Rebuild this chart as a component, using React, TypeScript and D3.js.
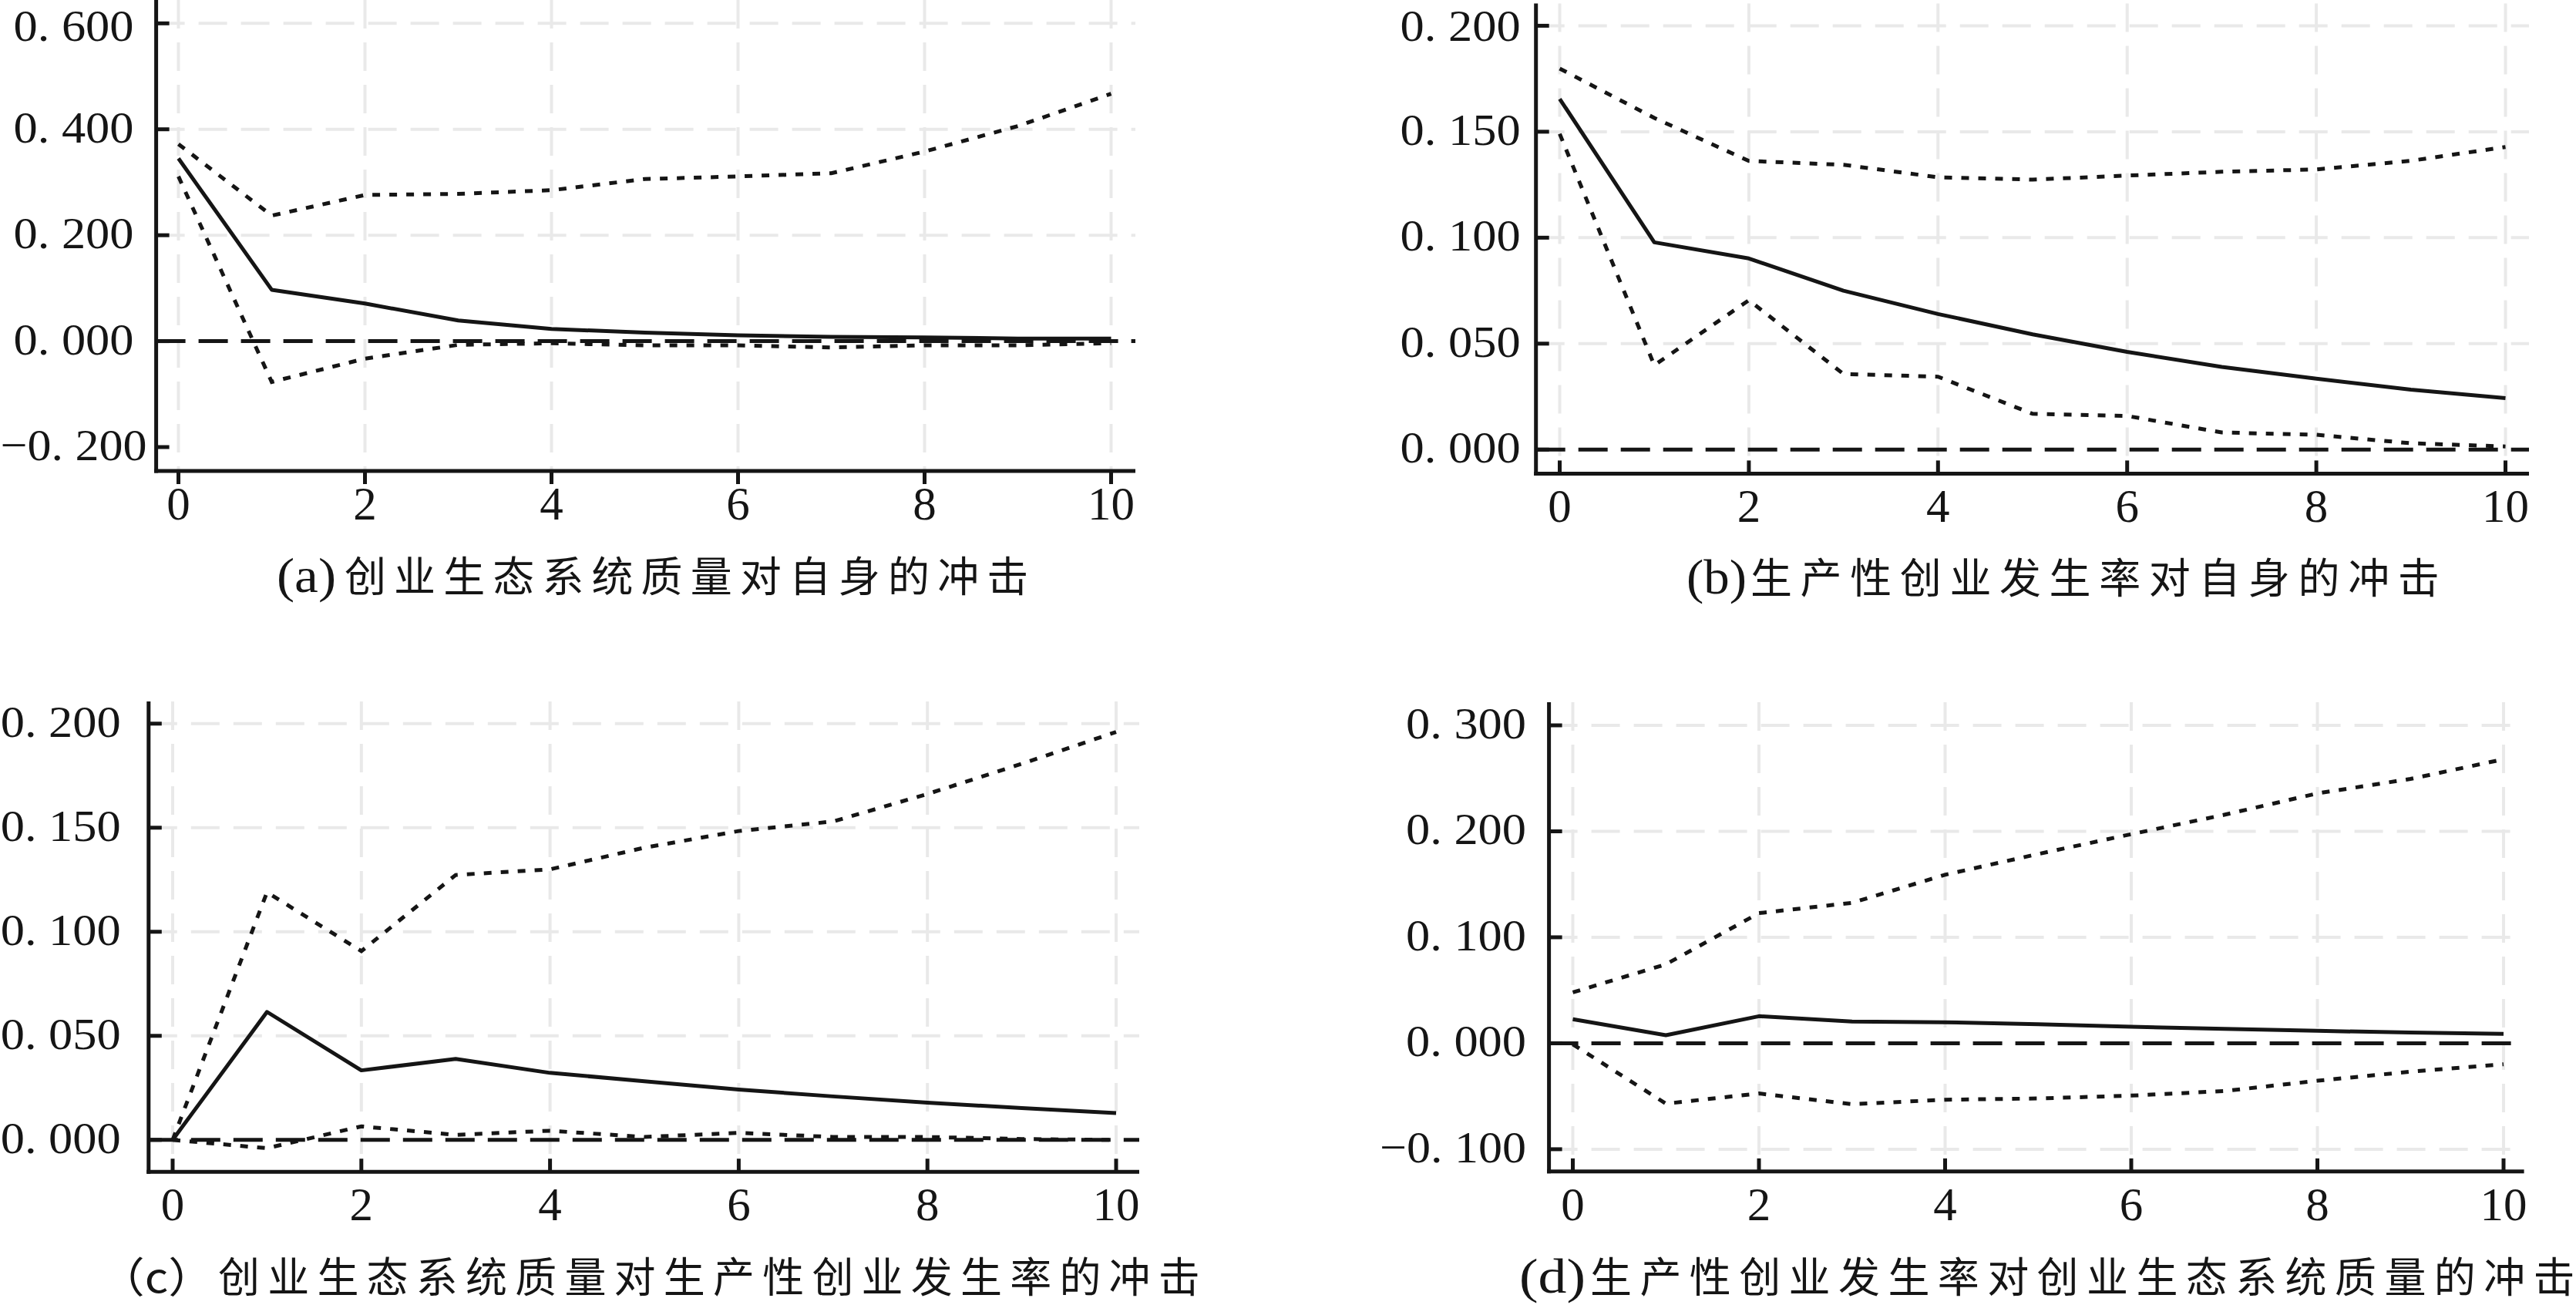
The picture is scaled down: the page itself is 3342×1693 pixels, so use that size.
import React from 'react';
import * as d3 from 'd3';

// ---------- data ----------
const PERIODS = [0, 1, 2, 3, 4, 5, 6, 7, 8, 9, 10];
const X_TICKS = [0, 2, 4, 6, 8, 10];

const A_IRF = [0.345, 0.097, 0.071, 0.039, 0.023, 0.016, 0.011, 0.008, 0.007, 0.005, 0.005];
const A_UPPER = [0.372, 0.237, 0.276, 0.278, 0.285, 0.306, 0.311, 0.317, 0.358, 0.406, 0.467];
const A_LOWER = [0.311, -0.077, -0.033, -0.007, -0.004, -0.008, -0.008, -0.012, -0.008, -0.008, -0.004];

const B_IRF = [0.1655, 0.0978, 0.0902, 0.075, 0.064, 0.0544, 0.0461, 0.039, 0.0335, 0.0283, 0.0243];
const B_UPPER = [0.1798, 0.1565, 0.1362, 0.1344, 0.1285, 0.1274, 0.1293, 0.1311, 0.1322, 0.1363, 0.1428];
const B_LOWER = [0.149, 0.0398, 0.0705, 0.0357, 0.0344, 0.0169, 0.0159, 0.0081, 0.007, 0.003, 0.0015];

const C_IRF = [0, 0.0615, 0.0334, 0.0389, 0.0322, 0.0282, 0.0242, 0.0209, 0.0179, 0.0153, 0.0129];
const C_UPPER = [0, 0.119, 0.0907, 0.1273, 0.13, 0.1404, 0.1484, 0.153, 0.1662, 0.1807, 0.196];
const C_LOWER = [0, -0.004, 0.0065, 0.0024, 0.0044, 0.0014, 0.0034, 0.0014, 0.0014, 0.0004, 0.0];

const D_IRF = [0.0227, 0.0076, 0.0255, 0.0205, 0.0198, 0.0179, 0.0156, 0.0136, 0.0117, 0.0101, 0.0089];
const D_UPPER = [0.048, 0.0745, 0.1228, 0.1325, 0.159, 0.1786, 0.1973, 0.2156, 0.2358, 0.2494, 0.268];
const D_LOWER = [-0.001, -0.057, -0.0474, -0.0575, -0.0533, -0.0521, -0.0494, -0.0451, -0.0354, -0.0268, -0.0198];

const A_Y_TICKS = [-0.2, 0, 0.2, 0.4, 0.6];
const B_Y_TICKS = [0, 0.05, 0.1, 0.15, 0.2];
const C_Y_TICKS = [0, 0.05, 0.1, 0.15, 0.2];
const D_Y_TICKS = [-0.1, 0, 0.1, 0.2, 0.3];

const A_GRID = [0.2, 0.4, 0.6];
const B_GRID = [0.05, 0.1, 0.15, 0.2];
const C_GRID = [0.05, 0.1, 0.15, 0.2];
const D_GRID = [-0.1, 0.1, 0.2, 0.3];

const CAPTION_PREFIXES = ['(a)', '(b)', '（c）', '(d)'];
const CAPTION_BODIES = [
  '创业生态系统质量对自身的冲击',
  '生产性创业发生率对自身的冲击',
  '创业生态系统质量对生产性创业发生率的冲击',
  '生产性创业发生率对创业生态系统质量的冲击',
];

// ---------- layout / style ----------
const SERIF = "'Liberation Serif', 'Times New Roman', serif";
const CJK = "'Noto Sans CJK SC', 'Noto Sans CJK JP', sans-serif";
const INK = '#151515';
const GRID = '#e9e9e9';
const CAP_SIZE = 54;

type Layout = {
  axisX: number; topY: number; xAxisY: number; rightX: number;
  x0: number; x10: number; yA: [number, number]; yB: [number, number];
  ticksOut: boolean; labelAnchor: 'middle' | 'end'; labelX: number;
  capY: number; preX: number; preW: number; bodyX: number; pitch: number; preCjk?: boolean;
};

const LAYOUTS: Layout[] = [
  { axisX: 202.6, topY: 0, xAxisY: 611, rightX: 1473, x0: 231.5, x10: 1441.5,
    yA: [0.6, 30.3], yB: [-0.2, 580], ticksOut: true, labelAnchor: 'middle', labelX: 95.5,
    capY: 768, preX: 359, preW: 77, bodyX: 447, pitch: 64.1 },
  { axisX: 1992.7, topY: 4.5, xAxisY: 614.4, rightX: 3281, x0: 2023.5, x10: 3250.5,
    yA: [0.2, 33.4], yB: [0, 583.3], ticksOut: false, labelAnchor: 'end', labelX: 1972.6,
    capY: 770, preX: 2188, preW: 78, bodyX: 2271, pitch: 64.6 },
  { axisX: 192.8, topY: 910, xAxisY: 1520.2, rightX: 1478, x0: 224, x10: 1448,
    yA: [0.2, 938.8], yB: [0, 1478.8], ticksOut: false, labelAnchor: 'end', labelX: 156.7,
    capY: 1677, preX: 128, preW: 150, bodyX: 283, pitch: 64.2, preCjk: true },
  { axisX: 2009.6, topY: 911, xAxisY: 1519.8, rightX: 3274.6, x0: 2040.5, x10: 3248,
    yA: [0.3, 941], yB: [-0.1, 1490.9], ticksOut: false, labelAnchor: 'end', labelX: 1980,
    capY: 1677, preX: 1971, preW: 86, bodyX: 2063, pitch: 64.4 },
];

const fmtY = (v: number) => d3.format('.3f')(v).replace('-', '\u2212').replace('.', '. ');

type PanelProps = {
  lay: Layout; irf: number[]; upper: number[]; lower: number[];
  yTicks: number[]; grid: number[]; prefix: string; body: string;
};

function Panel({ lay, irf, upper, lower, yTicks, grid, prefix, body }: PanelProps) {
  const x = d3.scaleLinear().domain([0, 10]).range([lay.x0, lay.x10]);
  const y = d3.scaleLinear().domain([lay.yA[0], lay.yB[0]]).range([lay.yA[1], lay.yB[1]]);
  const line = d3.line<number>().x((_, i) => x(PERIODS[i])).y((d) => y(d));
  const tickLen = 17;
  const sw = 5;
  const nChars = Array.from(body).length;
  const bodyLen = lay.pitch * (nChars - 1) + CAP_SIZE;

  return (
    <g>
      {/* grid */}
      {grid.map((g) => (
        <line key={'h' + g} x1={lay.axisX} x2={lay.rightX} y1={y(g)} y2={y(g)}
          stroke={GRID} strokeWidth={4} strokeDasharray="37 18" />
      ))}
      {X_TICKS.map((t) => (
        <line key={'v' + t} x1={x(t)} x2={x(t)} y1={lay.topY} y2={lay.xAxisY}
          stroke={GRID} strokeWidth={4} strokeDasharray="37 18" />
      ))}
      {/* zero line */}
      <line x1={lay.axisX} x2={lay.rightX} y1={y(0)} y2={y(0)} stroke={INK}
        strokeWidth={sw} strokeDasharray="38 17" />
      {/* confidence bands */}
      <path d={line(upper) || ''} fill="none" stroke={INK} strokeWidth={sw} strokeDasharray="10 12" />
      <path d={line(lower) || ''} fill="none" stroke={INK} strokeWidth={sw} strokeDasharray="10 12" />
      {/* irf */}
      <path d={line(irf) || ''} fill="none" stroke={INK} strokeWidth={sw} strokeLinejoin="round" />
      {/* axes */}
      <line x1={lay.axisX} x2={lay.axisX} y1={lay.topY} y2={lay.xAxisY + sw / 2} stroke={INK} strokeWidth={sw} />
      <line x1={lay.axisX - sw / 2} x2={lay.rightX} y1={lay.xAxisY} y2={lay.xAxisY} stroke={INK} strokeWidth={sw} />
      {yTicks.map((t) => (
        <line key={'yt' + t} x1={lay.axisX} x2={lay.axisX + tickLen} y1={y(t)} y2={y(t)} stroke={INK} strokeWidth={sw} />
      ))}
      {X_TICKS.map((t) => (
        <line key={'xt' + t} x1={x(t)} x2={x(t)}
          y1={lay.xAxisY} y2={lay.ticksOut ? lay.xAxisY + tickLen : lay.xAxisY - tickLen}
          stroke={INK} strokeWidth={sw} />
      ))}
      {/* y labels */}
      {yTicks.map((t) => {
        const w = t < 0 ? 190 : 156;
        const xs = lay.labelAnchor === 'middle' ? lay.labelX - w / 2 : lay.labelX - w;
        return (
          <text key={'yl' + t} x={xs} y={Math.max(y(t) + 17, 52.5)} fontFamily={SERIF} fontSize={58}
            fill={INK} textLength={w} lengthAdjust="spacingAndGlyphs">{fmtY(t)}</text>
        );
      })}
      {/* x labels */}
      {X_TICKS.map((t) => (
        <text key={'xl' + t} x={x(t)} y={lay.xAxisY + 63} fontFamily={SERIF} fontSize={61}
          fill={INK} textAnchor="middle">{String(t)}</text>
      ))}
      {/* caption */}
      <text x={lay.preX} y={lay.capY} fontFamily={lay.preCjk ? CJK : SERIF} fontSize={lay.preCjk ? CAP_SIZE : 64}
        fill={INK} textLength={lay.preW} lengthAdjust="spacingAndGlyphs">{prefix}</text>
      <text x={lay.bodyX} y={lay.capY} fontFamily={CJK} fontSize={CAP_SIZE} fill={INK}
        textLength={bodyLen} lengthAdjust="spacing">{body}</text>
    </g>
  );
}

export default function App() {
  const series = [
    { irf: A_IRF, upper: A_UPPER, lower: A_LOWER, yTicks: A_Y_TICKS, grid: A_GRID },
    { irf: B_IRF, upper: B_UPPER, lower: B_LOWER, yTicks: B_Y_TICKS, grid: B_GRID },
    { irf: C_IRF, upper: C_UPPER, lower: C_LOWER, yTicks: C_Y_TICKS, grid: C_GRID },
    { irf: D_IRF, upper: D_UPPER, lower: D_LOWER, yTicks: D_Y_TICKS, grid: D_GRID },
  ];
  return (
    <svg width={3342} height={1693} viewBox="0 0 3342 1693"
      style={{ position: 'absolute', left: 0, top: 0, background: '#ffffff', display: 'block' }}>
      <rect x={0} y={0} width={3342} height={1693} fill="#ffffff" />
      {series.map((s, i) => (
        <Panel key={i} lay={LAYOUTS[i]} irf={s.irf} upper={s.upper} lower={s.lower}
          yTicks={s.yTicks} grid={s.grid} prefix={CAPTION_PREFIXES[i]} body={CAPTION_BODIES[i]} />
      ))}
    </svg>
  );
}
